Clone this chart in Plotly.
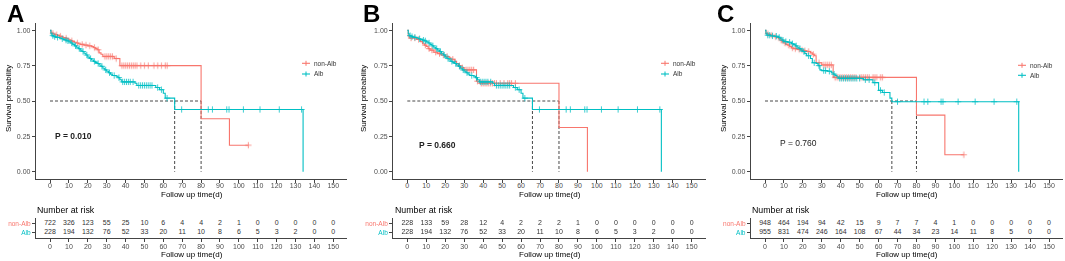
import numpy as np
import plotly.graph_objects as go

# ---------------- data ----------------
time_ticks = list(range(0, 151, 10))
group_names = ["non-Alb", "Alb"]
panel_labels = ["A", "B", "C"]
p_values = ["P = 0.010", "P = 0.660", "P = 0.760"]

# Panel A / non-Alb
A_nonalb_t = [0, 0.5, 1, 2, 3, 4, 5, 6, 7, 8, 9, 10, 11, 12, 13, 14, 15, 16, 18, 20, 22, 23, 24, 25, 26, 27, 28, 34, 37, 80, 95, 105]
A_nonalb_s = [1.0, 0.985, 0.978, 0.972, 0.968, 0.963, 0.958, 0.953, 0.948, 0.944, 0.94, 0.932, 0.925, 0.92, 0.915, 0.91, 0.905, 0.9, 0.895, 0.89, 0.885, 0.878, 0.87, 0.862, 0.84, 0.83, 0.815, 0.80, 0.75, 0.375, 0.1875, 0.1875]
A_nonalb_cens = [1.5, 3.5, 5.5, 8.5, 11.5, 14.5, 17, 19, 21, 23.5, 25.5, 29, 30, 31, 32, 33, 35, 38, 39, 40, 41, 42, 43, 44, 45, 46, 48, 50, 52, 55, 57, 59, 61, 62, 105]

# Panel A and B / Alb (same cohort)
AB_alb_t = [0, 0.5, 1, 2, 3, 5, 6, 7, 8, 9, 10, 11, 12, 13, 14, 15, 16, 17, 18, 19, 20, 21, 22, 23, 24, 25, 26, 27, 28, 29, 30, 31, 32, 33, 35, 36, 37, 38, 45, 46, 56, 58, 60, 61, 66, 134]
AB_alb_s = [1.0, 0.975, 0.962, 0.955, 0.95, 0.945, 0.94, 0.935, 0.93, 0.925, 0.918, 0.91, 0.9, 0.89, 0.88, 0.87, 0.86, 0.85, 0.838, 0.825, 0.81, 0.8, 0.79, 0.78, 0.772, 0.765, 0.755, 0.745, 0.732, 0.72, 0.71, 0.70, 0.69, 0.68, 0.675, 0.665, 0.65, 0.635, 0.625, 0.61, 0.595, 0.58, 0.555, 0.52, 0.44, 0.0]
AB_alb_cens = [1.5, 2.5, 4, 6.5, 8.5, 9.5, 11.5, 13.5, 15.5, 17.5, 19.5, 21.5, 23.5, 25.5, 27.5, 29.5, 31.5, 34, 36.5, 38.5, 39.5, 40.5, 41.5, 42.5, 44, 47, 48, 49, 50, 51, 52, 53, 54, 57, 59, 62, 69.7, 83.8, 86, 93.6, 94.8, 102.4, 111.2, 121.4, 133.2]

# Panel B / non-Alb
B_nonalb_t = [0, 0.5, 1, 5, 7, 8, 9, 10, 11, 12, 14, 16, 18, 20, 22, 23, 25, 26, 27, 28, 30, 36.5, 38, 80, 95]
B_nonalb_s = [1.0, 0.96, 0.945, 0.935, 0.92, 0.905, 0.895, 0.885, 0.87, 0.86, 0.845, 0.835, 0.825, 0.815, 0.805, 0.795, 0.78, 0.765, 0.75, 0.735, 0.72, 0.64, 0.625, 0.3125, 0.0]
B_nonalb_cens = [2, 4, 6, 9.5, 11.5, 13, 15, 17, 19, 21, 24, 27.5, 29, 31, 32, 33, 34, 35, 37, 39, 40, 41, 42, 43, 44, 45, 46, 47, 49, 51, 53, 54, 55, 57]

# Panel C / non-Alb
C_nonalb_t = [0, 0.5, 1, 2, 3, 4, 5, 6, 7, 8, 9, 10, 11, 12, 13, 14, 15, 17, 19, 20, 22, 24, 25, 26, 27, 30, 36, 80, 95, 105]
C_nonalb_s = [1.0, 0.98, 0.975, 0.97, 0.965, 0.96, 0.955, 0.95, 0.94, 0.93, 0.92, 0.91, 0.9, 0.895, 0.885, 0.875, 0.87, 0.865, 0.86, 0.855, 0.85, 0.84, 0.83, 0.82, 0.77, 0.755, 0.667, 0.40, 0.12, 0.12]
C_nonalb_cens = [1.5, 3.5, 5.5, 8.5, 10.5, 12.5, 14.5, 16, 18, 19.5, 21, 23, 25.5, 28.5, 31, 32, 33, 34, 35, 37, 38, 39, 40, 41, 42, 43, 44, 45, 46, 47, 48, 50, 51, 52, 53, 54, 55, 57, 58, 59, 61, 62, 105]

# Panel C / Alb
C_alb_t = [0, 0.5, 1, 3, 5, 7, 8, 9, 10, 12, 14, 15, 16, 17, 18, 19, 20, 21, 22, 24, 25, 27, 28, 29, 30, 33, 35, 36, 37, 38, 39, 52, 57, 60, 62, 66, 67, 134]
C_alb_s = [1.0, 0.975, 0.965, 0.96, 0.958, 0.95, 0.94, 0.93, 0.92, 0.915, 0.905, 0.9, 0.89, 0.88, 0.87, 0.86, 0.85, 0.835, 0.82, 0.8, 0.77, 0.765, 0.75, 0.72, 0.715, 0.71, 0.70, 0.69, 0.68, 0.67, 0.66, 0.65, 0.63, 0.575, 0.56, 0.52, 0.495, 0.0]
C_alb_cens = [1.5, 2.5, 4, 6, 7.5, 9.5, 11, 13, 14.5, 16.5, 18.5, 20.5, 23, 26, 28.5, 31, 32, 34, 36.5, 39.5, 40.5, 41.5, 42.5, 43.5, 44.5, 45.5, 46.5, 47.5, 48.5, 50, 53, 55, 58, 61, 63, 70, 84, 86, 93, 94, 102, 111, 121, 133]

# Number at risk tables
risk_A_nonalb = [722, 326, 123, 55, 25, 10, 6, 4, 4, 2, 1, 0, 0, 0, 0, 0]
risk_A_alb = [228, 194, 132, 76, 52, 33, 20, 11, 10, 8, 6, 5, 3, 2, 0, 0]
risk_B_nonalb = [228, 133, 59, 28, 12, 4, 2, 2, 2, 1, 0, 0, 0, 0, 0, 0]
risk_B_alb = [228, 194, 132, 76, 52, 33, 20, 11, 10, 8, 6, 5, 3, 2, 0, 0]
risk_C_nonalb = [948, 464, 194, 94, 42, 15, 9, 7, 7, 4, 1, 0, 0, 0, 0, 0]
risk_C_alb = [955, 831, 474, 246, 164, 108, 67, 44, 34, 23, 14, 11, 8, 5, 0, 0]

# ---------------- style / layout ----------------
W, H = 1065, 261
RED = "#F8766D"
TEAL = "#00BFC4"
FONT = "Liberation Sans, Arial, sans-serif"
AX = "#444444"
TXT = "#4D4D4D"


def px(v):
    return v / W


def py(v):
    return 1 - v / H


def step_value(t, s, q):
    t = np.asarray(t, float)
    s = np.asarray(s, float)
    idx = np.searchsorted(t, np.asarray(q, float), side="right") - 1
    return s[np.clip(idx, 0, len(s) - 1)]


def median_time(t, s):
    for ti, si in zip(t, s):
        if si <= 0.5:
            return ti
    return None


panels = [
    dict(curves=[(A_nonalb_t, A_nonalb_s, A_nonalb_cens, RED), (AB_alb_t, AB_alb_s, AB_alb_cens, TEAL)],
         risk=[risk_A_nonalb, risk_A_alb]),
    dict(curves=[(B_nonalb_t, B_nonalb_s, B_nonalb_cens, RED), (AB_alb_t, AB_alb_s, AB_alb_cens, TEAL)],
         risk=[risk_B_nonalb, risk_B_alb]),
    dict(curves=[(C_nonalb_t, C_nonalb_s, C_nonalb_cens, RED), (C_alb_t, C_alb_s, C_alb_cens, TEAL)],
         risk=[risk_C_nonalb, risk_C_alb]),
]

# pixel geometry for each panel (tick 0 / tick 150 positions, letters, titles)
geom = [
    dict(x0=50.0, x150=333.3, letter_x=5, ytitle_x=8.5, p_xy=(1.6, 0.25), p_bold=True,
         leg_x=302, leg_y=(63.3, 74.0)),
    dict(x0=407.3, x150=691.7, letter_x=361, ytitle_x=363.5, p_xy=(5.2, 0.19), p_bold=True,
         leg_x=661, leg_y=(63.3, 74.0)),
    dict(x0=765.0, x150=1049.0, letter_x=715, ytitle_x=723.5, p_xy=(7.0, 0.20), p_bold=False,
         leg_x=1018, leg_y=(65.3, 75.3)),
]

MAIN_TOP, MAIN_BOT = 23.2, 178.8
TAB_TOP, TAB_BOT = 217.7, 238.3
XR = [-7.5, 157.5]

fig = go.Figure()
layout = dict(
    width=W, height=H, margin=dict(l=0, r=0, t=0, b=0),
    paper_bgcolor="white", plot_bgcolor="white", showlegend=False,
    font=dict(family=FONT, color=TXT, size=7),
)
shapes = []
annotations = []

axis_common = dict(showgrid=False, zeroline=False, showline=True, linecolor=AX, linewidth=1,
                   ticks="outside", ticklen=3, tickcolor=AX, tickwidth=1,
                   tickfont=dict(family=FONT, size=7, color=TXT), fixedrange=True)

for i, (pan, g) in enumerate(zip(panels, geom)):
    k = (g["x150"] - g["x0"]) / 150.0
    left = g["x0"] - 7.5 * k
    right = g["x150"] + 7.5 * k
    mx, my = 2 * i + 1, 2 * i + 1
    tx, ty = 2 * i + 2, 2 * i + 2
    mxn = "x" if mx == 1 else f"x{mx}"
    myn = "y" if my == 1 else f"y{my}"
    txn, tyn = f"x{tx}", f"y{ty}"
    mxk = "xaxis" if mx == 1 else f"xaxis{mx}"
    myk = "yaxis" if my == 1 else f"yaxis{my}"

    layout[mxk] = dict(axis_common, domain=[px(left), px(right)], range=XR, anchor=myn,
                       tickvals=time_ticks, ticktext=[str(v) for v in time_ticks],
                       ticklabelstandoff=-3)
    layout[myk] = dict(axis_common, domain=[py(MAIN_BOT), py(MAIN_TOP)], range=[-0.05, 1.05], anchor=mxn,
                       tickvals=[0, 0.25, 0.5, 0.75, 1.0],
                       ticktext=["0.00", "0.25", "0.50", "0.75", "1.00"])
    layout[f"xaxis{tx}"] = dict(axis_common, domain=[px(left), px(right)], range=XR, anchor=tyn,
                                tickvals=time_ticks, ticktext=[str(v) for v in time_ticks],
                                ticklabelstandoff=-2)
    layout[f"yaxis{ty}"] = dict(axis_common, domain=[py(TAB_BOT), py(TAB_TOP)], range=[0.4, 2.6], anchor=txn,
                                tickvals=[2, 1],
                                ticktext=[f'<span style="color:{RED}">{group_names[0]}</span>',
                                          f'<span style="color:{TEAL}">{group_names[1]}</span>'],
                                tickfont=dict(family=FONT, size=6.5))

    # median reference lines
    meds = [median_time(t, s) for (t, s, c, col) in pan["curves"]]
    meds = [m for m in meds if m is not None]
    dash = dict(color="#333333", width=0.9, dash="3px,2px")
    if meds:
        shapes.append(dict(type="line", xref=mxn, yref=myn, x0=0, x1=max(meds), y0=0.5, y1=0.5,
                           line=dash, layer="below"))
        for m in meds:
            shapes.append(dict(type="line", xref=mxn, yref=myn, x0=m, x1=m, y0=0.5, y1=0,
                               line=dash, layer="below"))

    # curves
    for gi, (t, s, cens, col) in enumerate(pan["curves"]):
        fig.add_trace(go.Scatter(x=t, y=s, mode="lines", name=group_names[gi],
                                 line=dict(shape="hv", color=col, width=1.1),
                                 xaxis=mxn, yaxis=myn, hoverinfo="skip"))
        fig.add_trace(go.Scatter(x=cens, y=step_value(t, s, cens), mode="markers",
                                 marker=dict(symbol="cross-thin", size=4.5,
                                             line=dict(width=0.9, color=col)),
                                 opacity=0.85, xaxis=mxn, yaxis=myn, hoverinfo="skip"))

    # risk table
    for gi, row in enumerate(pan["risk"]):
        fig.add_trace(go.Scatter(x=time_ticks, y=[2 - gi] * len(time_ticks), mode="text",
                                 text=[str(v) for v in row],
                                 textfont=dict(family=FONT, size=7, color="#333333"),
                                 xaxis=txn, yaxis=tyn, hoverinfo="skip"))

    cx = (left + right) / 2
    annotations += [
        dict(text=panel_labels[i], xref="paper", yref="paper", x=px(g["letter_x"]), y=py(13.5),
             xanchor="left", yanchor="middle", showarrow=False,
             font=dict(family=FONT, size=24, color="black", weight="bold")),
        dict(text="Survival probability", xref="paper", yref="paper", x=px(g["ytitle_x"]),
             y=py(98.5), textangle=-90, xanchor="center", yanchor="middle", showarrow=False,
             font=dict(family=FONT, size=8, color="black")),
        dict(text="Follow up time(d)", xref="paper", yref="paper", x=px(cx), y=py(194),
             xanchor="center", yanchor="middle", showarrow=False,
             font=dict(family=FONT, size=8, color="black")),
        dict(text="Number at risk", xref="paper", yref="paper", x=px(left - 0.5), y=py(209.5),
             xanchor="left", yanchor="middle", showarrow=False,
             font=dict(family=FONT, size=8.8, color="black")),
        dict(text="Follow up time(d)", xref="paper", yref="paper", x=px(cx), y=py(254.5),
             xanchor="center", yanchor="middle", showarrow=False,
             font=dict(family=FONT, size=8, color="black")),
        dict(text=p_values[i], xref=mxn, yref=myn, x=g["p_xy"][0], y=g["p_xy"][1],
             xanchor="left", yanchor="middle", showarrow=False,
             font=dict(family=FONT, size=8.5, color="#222222",
                       weight="bold" if g["p_bold"] else "normal")),
    ]

    # manual legend (line + cross key, label)
    for gi, col in enumerate([RED, TEAL]):
        yy = g["leg_y"][gi]
        lx = g["leg_x"]
        shapes.append(dict(type="line", xref="paper", yref="paper", x0=px(lx), x1=px(lx + 8),
                           y0=py(yy), y1=py(yy), line=dict(color=col, width=1.1)))
        shapes.append(dict(type="line", xref="paper", yref="paper", x0=px(lx + 4), x1=px(lx + 4),
                           y0=py(yy - 2.5), y1=py(yy + 2.5), line=dict(color=col, width=1)))
        annotations.append(dict(text=group_names[gi], xref="paper", yref="paper", x=px(lx + 10),
                                y=py(yy), xanchor="left", yanchor="middle", showarrow=False,
                                font=dict(family=FONT, size=6.5, color="#333333")))

layout["shapes"] = shapes
layout["annotations"] = annotations
fig.update_layout(**layout)
fig.write_html("out.html", config={"displayModeBar": False},
               post_script="document.body.style.margin='0';document.body.style.overflow='hidden';")
